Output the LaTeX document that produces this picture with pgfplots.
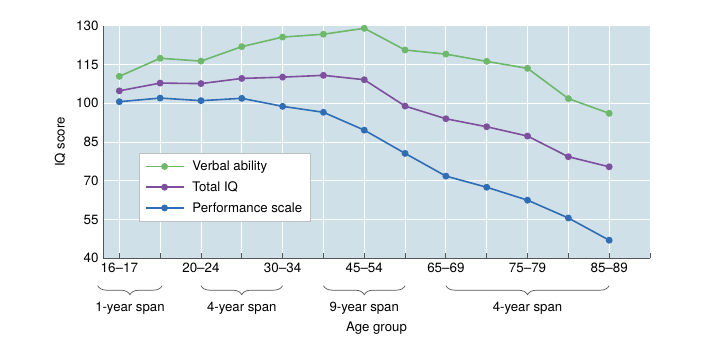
\documentclass[border=0pt]{standalone}
\usepackage{pgfplots}
\pgfplotsset{compat=1.18}
\usepackage{fontspec}
\setmainfont{TeX Gyre Heros}
\usetikzlibrary{decorations.pathreplacing}
\definecolor{bgblue}{HTML}{D0E0E9}
\definecolor{cgreen}{HTML}{6DB86A}
\definecolor{cpurple}{HTML}{7D4F9C}
\definecolor{cblue}{HTML}{2F6DB4}
\definecolor{axgray}{HTML}{555555}
\begin{document}
\begin{tikzpicture}
\useasboundingbox (-103pt,-82.7pt) rectangle (599pt,258.3pt);
\begin{axis}[
  at={(0pt,0pt)}, anchor=south west,
  scale only axis, width=547pt, height=232.6pt,
  xmin=-0.4, xmax=13, ymin=40, ymax=130,
  clip=false,
  axis x line*=bottom, axis y line*=left,
  axis line style={axgray, line width=0.8pt, -},
  axis background/.style={fill=bgblue},
  xtick={0,...,13},
  xticklabels={16–17,,20–24,,30–34,,45–54,,65–69,,75–79,,85–89,},
  ytick={40,55,70,85,100,115,130},
  tick align=inside,
  major tick length=5pt,
  xtick style={axgray, line width=0.8pt},
  ytick style={draw=none},
  grid=major,
  major grid style={white, line width=0.9pt},
  /pgf/number format/assume math mode=true,
  tick label style={font=\fontsize{13.4}{15}\selectfont, text=black},
  yticklabel style={xshift=-1pt},
  xticklabel style={yshift=-1.5pt},
  ylabel={IQ score},
  ylabel style={at={(axis description cs:-0.0786,0.5)}, anchor=center, font=\fontsize{13.2}{15}\selectfont},
  xlabel={Age group},
  xlabel style={at={(rel axis cs:0.5,0)}, anchor=center, yshift=-69.5pt, font=\fontsize{13.2}{15}\selectfont},
  legend style={at={(rel axis cs:0.065,0.454)}, anchor=north west, draw=gray!50, fill=white,
    font=\fontsize{13.2}{15}\selectfont, row sep=5.5pt, inner xsep=6pt, inner ysep=6pt},
  legend cell align=left,
  legend image code/.code={\draw[#1, mark repeat=2, mark phase=2] plot coordinates {(0pt,0pt) (19pt,0pt) (38pt,0pt)}; \path (44pt,0pt);},
  every axis plot/.append style={line width=1.6pt, mark=*, mark size=2.6pt},
]
\addplot[cgreen, mark options={fill=cgreen, draw=cgreen}] coordinates {
(0,110.4) (1,117.4) (2,116.3) (3,121.9) (4,125.6) (5,126.7) (6,129.0) (7,120.6) (8,119.0) (9,116.2) (10,113.5) (11,101.8) (12,96.1)};
\addlegendentry{Verbal ability}
\addplot[cpurple, mark options={fill=cpurple, draw=cpurple}] coordinates {
(0,104.8) (1,107.8) (2,107.6) (3,109.6) (4,110.1) (5,110.8) (6,109.1) (7,98.9) (8,94.0) (9,90.9) (10,87.3) (11,79.3) (12,75.4)};
\addlegendentry{Total IQ}
\addplot[cblue, mark options={fill=cblue, draw=cblue}] coordinates {
(0,100.6) (1,102.0) (2,101.0) (3,101.9) (4,98.8) (5,96.5) (6,89.6) (7,80.6) (8,71.8) (9,67.5) (10,62.5) (11,55.6) (12,47.0)};
\addlegendentry{Performance scale}
\draw[axgray, line width=0.7pt, decorate, decoration={brace, mirror, amplitude=9pt}] (axis cs:-0.53,29.4) -- (axis cs:1.05,29.4);
\draw[axgray, line width=0.7pt, decorate, decoration={brace, mirror, amplitude=9pt}] (axis cs:2,29.4) -- (axis cs:4,29.4);
\draw[axgray, line width=0.7pt, decorate, decoration={brace, mirror, amplitude=9pt}] (axis cs:5,29.4) -- (axis cs:7,29.4);
\draw[axgray, line width=0.7pt, decorate, decoration={brace, mirror, amplitude=9pt}] (axis cs:8,29.4) -- (axis cs:12,29.4);
\node[font=\fontsize{13.2}{15}\selectfont] at (axis cs:0.26,20.6) {1-year span};
\node[font=\fontsize{13.2}{15}\selectfont] at (axis cs:3,20.6) {4-year span};
\node[font=\fontsize{13.2}{15}\selectfont] at (axis cs:6,20.6) {9-year span};
\node[font=\fontsize{13.2}{15}\selectfont] at (axis cs:10,20.6) {4-year span};
\end{axis}
\end{tikzpicture}
\end{document}
